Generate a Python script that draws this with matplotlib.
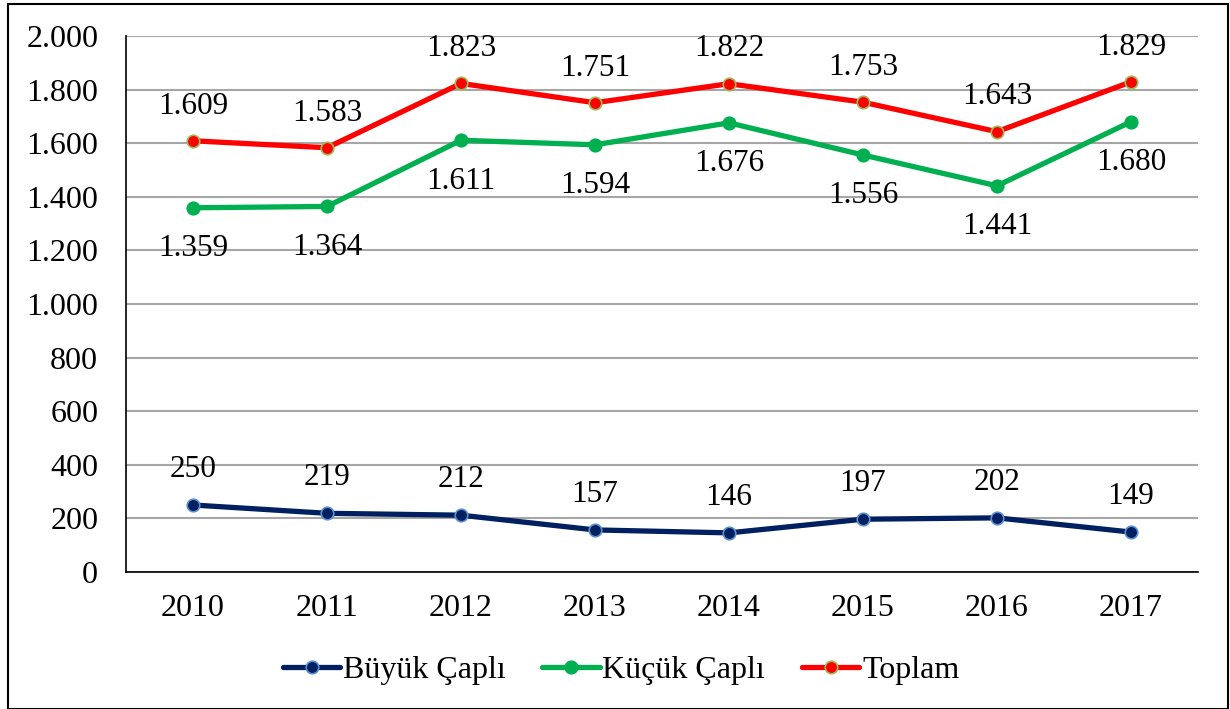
import matplotlib
matplotlib.use("Agg")
import matplotlib.pyplot as plt
from matplotlib.ticker import FuncFormatter
from matplotlib.patches import Rectangle

years = ["2010", "2011", "2012", "2013", "2014", "2015", "2016", "2017"]
buyuk = [250, 219, 212, 157, 146, 197, 202, 149]
kucuk = [1359, 1364, 1611, 1594, 1676, 1556, 1441, 1680]
toplam = [1609, 1583, 1823, 1751, 1822, 1753, 1643, 1829]
series_names = ["Büyük Çaplı", "Küçük Çaplı", "Toplam"]

plt.rcParams['font.family'] = ['Liberation Serif', 'DejaVu Serif']

fig = plt.figure(figsize=(12.3, 7.09), dpi=100)
ax = fig.add_axes([126/1230, 1-572/709, (1198-126)/1230, (572-36)/709])

x = list(range(len(years)))
styles = [
    (buyuk, "#002060", "#002060", "#5B8FD0", 25.5),
    (kucuk, "#00B050", "#00B050", "#00B050", -29.5),
    (toplam, "#FF0000", "#FF0000", "#9BBB59", 25),
]
for (vals, lc, mfc, mec, off), name in zip(styles, series_names):
    ax.plot(x, vals, color=lc, lw=3.8, marker='o', markersize=9,
            markerfacecolor=mfc, markeredgecolor=mec, markeredgewidth=1.2,
            label=name, solid_capstyle='round', zorder=3)
    for xi, v in zip(x, vals):
        s = f"{v:,}".replace(",", ".")
        ax.annotate(s, (xi, v), xytext=(0, off), textcoords='offset points',
                    ha='center', va='center', fontsize=22.5, color='black')

ax.set_xlim(-0.5, len(years)-0.5)
ax.set_ylim(0, 2000)
ax.set_yticks(range(0, 2001, 200))
ax.yaxis.set_major_formatter(FuncFormatter(lambda v, p: f"{int(v):,}".replace(",", ".")))
ax.set_xticks(x)
ax.set_xticklabels(years)
ax.tick_params(axis='both', labelsize=23, length=0, colors='black')
ax.tick_params(axis='y', pad=20)
ax.tick_params(axis='x', pad=16)
ax.grid(axis='y', color='#A6A6A6', lw=1.5)
ax.set_axisbelow(True)
for s in ['top', 'right']:
    ax.spines[s].set_visible(False)
ax.spines['left'].set_color('black')
ax.spines['bottom'].set_color('black')
ax.spines['left'].set_linewidth(1.2)
ax.spines['bottom'].set_linewidth(1.2)

leg = fig.legend(loc='center', bbox_to_anchor=(621/1230, 1-670/709), ncol=3, frameon=False,
                 fontsize=23, handlelength=1.8, handletextpad=0.08, columnspacing=1.15)

fig.patches.append(Rectangle((8/1230, 0), 1-8/1230-2/1230, 1-4/709, transform=fig.transFigure,
                             fill=False, edgecolor='black', lw=1.5))

fig.savefig("out.png", dpi=100)
